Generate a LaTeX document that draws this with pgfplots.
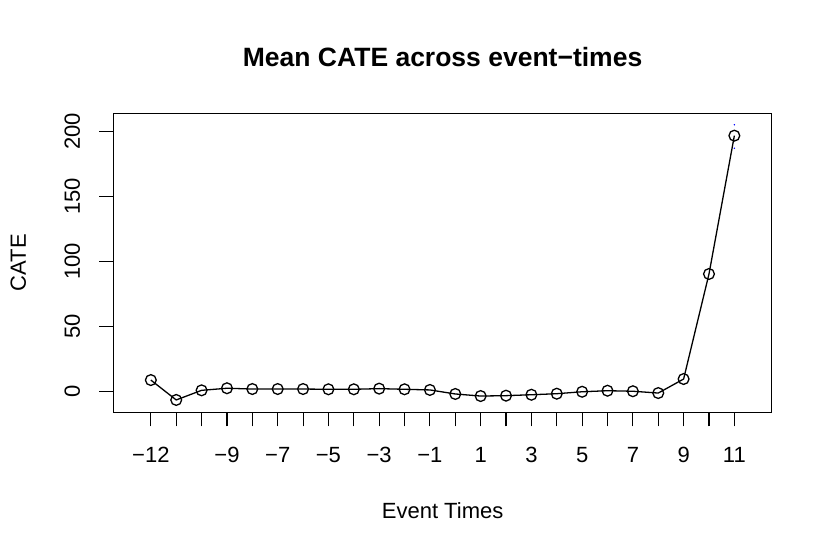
\documentclass[border=0pt]{standalone}
\usepackage{pgfplots}
\pgfplotsset{compat=1.18}
\usepackage{fontspec}
\setmainfont{Liberation Sans}
\begin{document}
\begin{tikzpicture}
\path[use as bounding box] (0,0) rectangle (830bp,554bp);
\begin{axis}[
  at={(113.3bp,141.7bp)}, anchor=south west,
  width=658.6bp, height=299bp, scale only axis,
  xmin=-13.48, xmax=12.48, ymin=-16, ymax=214,
  axis line style={line width=1.1bp},
  every tick/.style={black, line width=1.1bp},
  tick align=outside, major tick length=14bp,
  xtick={-12,-11,...,11},
  xticklabels={−12,{},{},−9,{},−7,{},−5,{},−3,{},−1,{},1,{},3,{},5,{},7,{},9,{},11},
  ytick={0,50,100,150,200},
  yticklabels={0,50,100,150,200},
  xtick pos=bottom, ytick pos=left,
  font=\fontsize{22bp}{26bp}\selectfont,
  xticklabel style={anchor=base, inner sep=0pt, yshift=-36bp},
  yticklabel style={xshift=-19.5bp, rotate=90, anchor=base, inner sep=0pt},
  title={\bfseries Mean CATE across event−times},
  title style={at={(axis description cs:0.5,1.135)}, anchor=base, inner sep=0pt, font=\fontsize{26.5bp}{30bp}\selectfont},
  xlabel={Event Times},
  xlabel style={at={(axis description cs:0.5,-0.355)}, anchor=base, inner sep=0pt},
  ylabel={CATE},
  ylabel style={at={(axis description cs:-0.1329,0.5)}, anchor=base, inner sep=0pt},
  clip=false,
]
\addplot[black, line width=1.3bp, mark=o, mark size=5.4bp, mark options={line width=1.3bp}] coordinates {
(-12,8.8) (-11,-6.5) (-10,0.9) (-9,2.5) (-8,1.9) (-7,1.9) (-6,1.9) (-5,1.7)
(-4,1.7) (-3,2.2) (-2,1.7) (-1,1.2) (0,-1.9) (1,-3.5) (2,-3.2) (3,-2.5)
(4,-1.7) (5,-0.2) (6,0.6) (7,0.2) (8,-1.2) (9,9.6) (10,90.4) (11,196.8)
};
\addplot[only marks, blue, mark=*, mark size=0.5bp] coordinates {(11,205.2) (11,187.1)};
\end{axis}
\end{tikzpicture}
\end{document}
